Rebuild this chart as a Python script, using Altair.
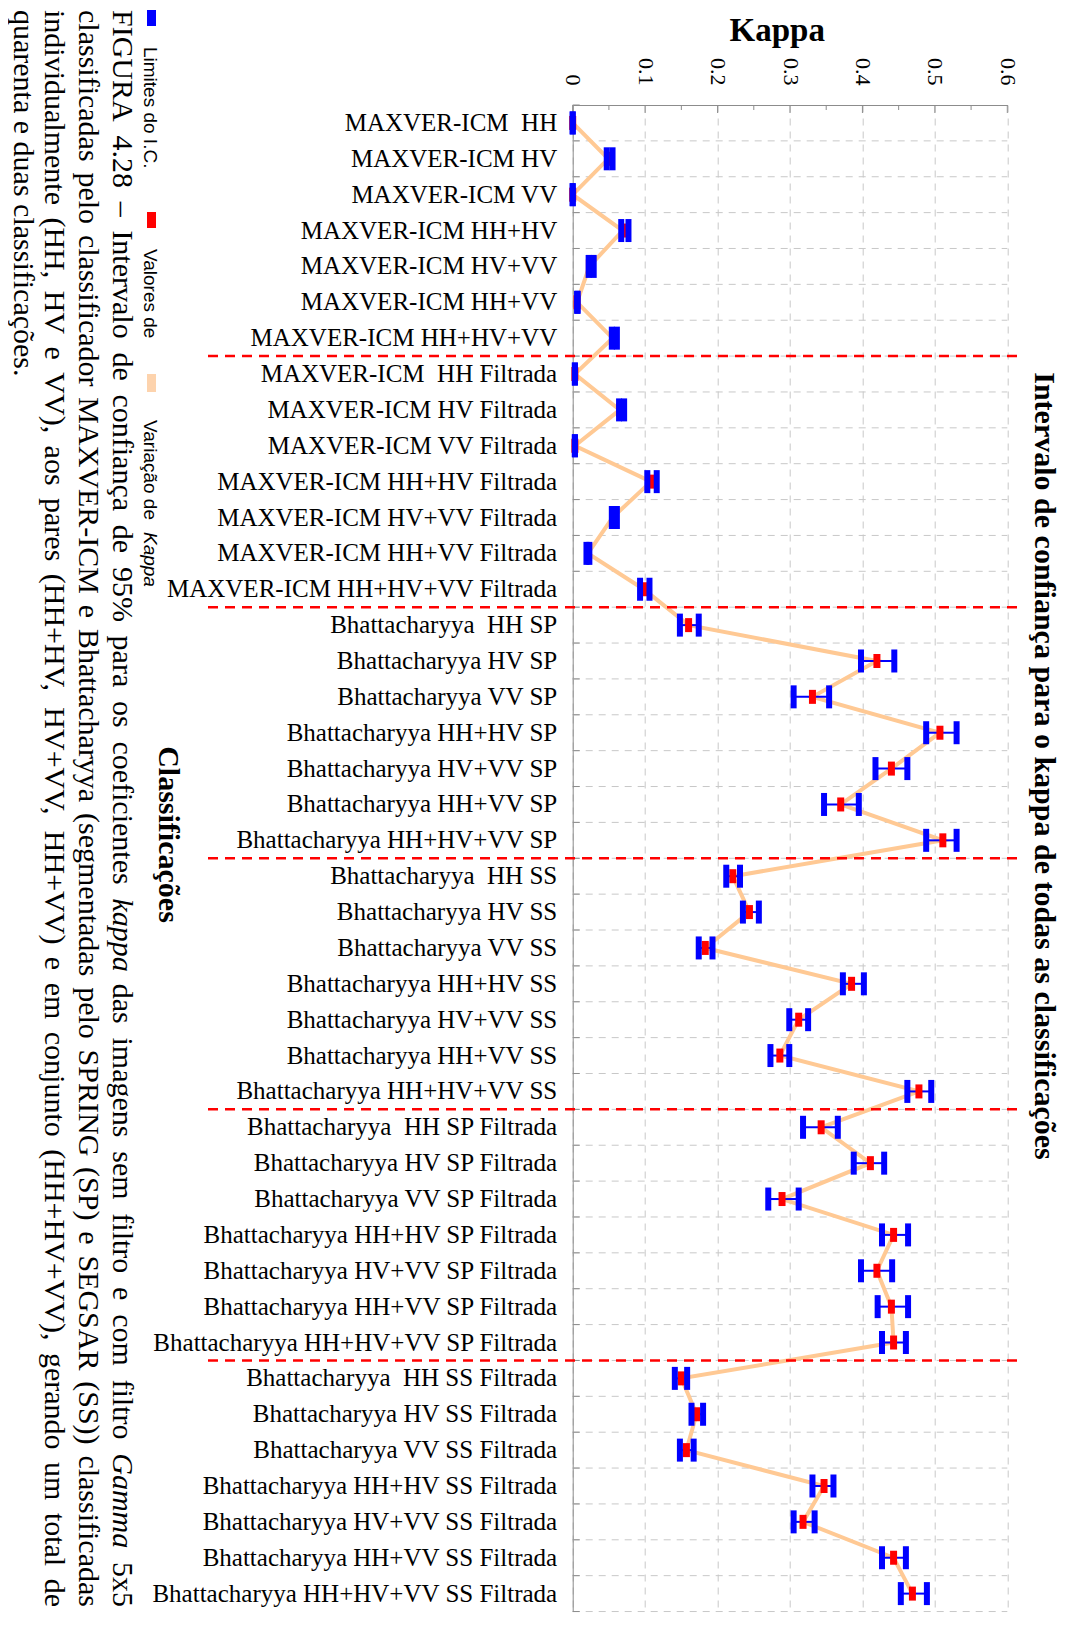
import altair as alt
import pandas as pd

# ---------------- data ----------------
categories = [
    "MAXVER-ICM  HH", "MAXVER-ICM HV", "MAXVER-ICM VV", "MAXVER-ICM HH+HV",
    "MAXVER-ICM HV+VV", "MAXVER-ICM HH+VV", "MAXVER-ICM HH+HV+VV",
    "MAXVER-ICM  HH Filtrada", "MAXVER-ICM HV Filtrada", "MAXVER-ICM VV Filtrada",
    "MAXVER-ICM HH+HV Filtrada", "MAXVER-ICM HV+VV Filtrada", "MAXVER-ICM HH+VV Filtrada",
    "MAXVER-ICM HH+HV+VV Filtrada",
    "Bhattacharyya  HH SP", "Bhattacharyya HV SP", "Bhattacharyya VV SP",
    "Bhattacharyya HH+HV SP", "Bhattacharyya HV+VV SP", "Bhattacharyya HH+VV SP",
    "Bhattacharyya HH+HV+VV SP",
    "Bhattacharyya  HH SS", "Bhattacharyya HV SS", "Bhattacharyya VV SS",
    "Bhattacharyya HH+HV SS", "Bhattacharyya HV+VV SS", "Bhattacharyya HH+VV SS",
    "Bhattacharyya HH+HV+VV SS",
    "Bhattacharyya  HH SP Filtrada", "Bhattacharyya HV SP Filtrada", "Bhattacharyya VV SP Filtrada",
    "Bhattacharyya HH+HV SP Filtrada", "Bhattacharyya HV+VV SP Filtrada",
    "Bhattacharyya HH+VV SP Filtrada", "Bhattacharyya HH+HV+VV SP Filtrada",
    "Bhattacharyya  HH SS Filtrada", "Bhattacharyya HV SS Filtrada", "Bhattacharyya VV SS Filtrada",
    "Bhattacharyya HH+HV SS Filtrada", "Bhattacharyya HV+VV SS Filtrada",
    "Bhattacharyya HH+VV SS Filtrada", "Bhattacharyya HH+HV+VV SS Filtrada",
]

kappa = [
    0.000, 0.049, 0.000, 0.069, 0.023, 0.006, 0.055,
    0.003, 0.065, 0.003, 0.108, 0.055, 0.021, 0.098,
    0.160, 0.420, 0.331, 0.507, 0.440, 0.370, 0.511,
    0.221, 0.244, 0.183, 0.385, 0.312, 0.286, 0.478,
    0.343, 0.411, 0.289, 0.443, 0.420, 0.440, 0.443,
    0.150, 0.171, 0.157, 0.347, 0.318, 0.443, 0.469,
]
ci_low = [
    0.000, 0.047, 0.000, 0.067, 0.022, 0.006, 0.054,
    0.003, 0.064, 0.003, 0.103, 0.054, 0.019, 0.093,
    0.148, 0.398, 0.305, 0.488, 0.418, 0.347, 0.488,
    0.212, 0.235, 0.174, 0.373, 0.299, 0.273, 0.462,
    0.318, 0.388, 0.270, 0.427, 0.398, 0.421, 0.427,
    0.141, 0.164, 0.148, 0.331, 0.305, 0.427, 0.453,
]
ci_high = [
    0.000, 0.055, 0.000, 0.077, 0.029, 0.007, 0.061,
    0.003, 0.071, 0.003, 0.116, 0.061, 0.023, 0.106,
    0.174, 0.444, 0.354, 0.530, 0.462, 0.395, 0.530,
    0.231, 0.257, 0.193, 0.402, 0.325, 0.299, 0.495,
    0.366, 0.430, 0.312, 0.463, 0.441, 0.463, 0.460,
    0.158, 0.180, 0.167, 0.360, 0.334, 0.460, 0.489,
]
group_first = [
    "MAXVER-ICM  HH Filtrada", "Bhattacharyya  HH SP", "Bhattacharyya  HH SS",
    "Bhattacharyya  HH SP Filtrada", "Bhattacharyya  HH SS Filtrada",
]
x_major = [0, 0.1, 0.2, 0.3, 0.4, 0.5, 0.6]
x_minor = [0.05, 0.15, 0.25, 0.35, 0.45, 0.55]

title_text = "Intervalo de confiança para o kappa de todas as classificações"
x_title = "Kappa"
y_title = "Classificações"
legend_items = ["Limites do I.C.", "Valores de", "Variação de "]
legend_italic = "Kappa"
caption_lines = [
    "FIGURA 4.28 – Intervalo de confiança de 95% para os coeficientes kappa das imagens sem filtro e com filtro Gamma 5x5",
    "classificadas pelo classificador MAXVER-ICM e Bhattacharyya (segmentadas pelo SPRING (SP) e SEGSAR (SS)) classificadas",
    "individualmente (HH, HV e VV), aos pares (HH+HV, HV+VV, HH+VV) e em conjunto (HH+HV+VV), gerando um total de",
    "quarenta e duas classificações.",
]
caption_italic = ["kappa", "Gamma"]

# ---------------- layout ----------------
SERIF = "Liberation Serif"
SANS = "Liberation Sans"
X0, Y0 = 572.7, 105.0
W = 434.6
H = 42 * 35.87
BLUE, RED, PEACH, GRID = "#0000ff", "#ff0000", "#ffc994", "#c8c8c8"


def px(v):
    return v - X0


def py(v):
    return v - Y0


# Times/Liberation Serif advance widths (1/1000 em) used to justify the caption
_TW = {" ": 250, "(": 333, ")": 333, "+": 564, ",": 250, "-": 333, ".": 250, "%": 833,
       "–": 500, "x": 500}
_TW.update({d: 500 for d in "0123456789"})
_TW.update(dict(zip("ABCDEFGHIJKLMNOPQRSTUVWXYZ",
                    [722, 667, 667, 722, 611, 556, 722, 722, 333, 389, 722, 611, 889,
                     722, 722, 556, 722, 667, 556, 611, 722, 722, 944, 722, 722, 611])))
_TW.update(dict(zip("abcdefghijklmnopqrstuvwyz",
                    [444, 500, 444, 500, 444, 333, 500, 500, 278, 278, 500, 278, 778,
                     500, 500, 500, 500, 333, 389, 278, 500, 500, 722, 500, 444])))
_ACC = {"ç": "c", "ã": "a", "õ": "o", "á": "a", "é": "e", "í": "i", "ó": "o", "ú": "u"}


def text_width(s, size):
    return sum(_TW.get(_ACC.get(ch, ch), 500) for ch in s) * size / 1000.0


CAP_SIZE = 30
cap_baselines = [113, 79, 45, 14]
cap_start, cap_end = 10, 1607
rows = []
for li, line in enumerate(caption_lines):
    words = line.split(" ")
    widths = [text_width(w, CAP_SIZE) for w in words]
    justify = li < len(caption_lines) - 1
    if justify:
        gap = (cap_end - cap_start - sum(widths)) / (len(words) - 1)
    else:
        gap = text_width(" ", CAP_SIZE)
    pos = cap_start
    for w, wd in zip(words, widths):
        rows.append({"w": w, "x": px(cap_baselines[li]), "y": py(pos),
                     "it": w in caption_italic})
        pos += wd + gap
cap_df = pd.DataFrame(rows)

labels = [c.replace("  ", "\u00a0\u00a0") for c in categories]
df = pd.DataFrame({
    "cat": labels,
    "kappa": kappa,
    "lo": ci_low,
    "hi": ci_high,
    "idx": list(range(len(labels))),
})
sep_df = pd.DataFrame({"cat": [c.replace("  ", "\u00a0\u00a0") for c in group_first]})
bottom_df = pd.DataFrame({"cat": [labels[-1]]})
major_df = pd.DataFrame({"t": x_major})
minor_df = pd.DataFrame({"t": x_minor})

xscale = alt.Scale(domain=[0, 0.6], nice=False, zero=False)
yscale = alt.Scale(domain=labels, paddingInner=0, paddingOuter=0)

xaxis = alt.Axis(
    orient="top", values=x_major, format=".1~f",
    labelAngle=90, labelAlign="right", labelBaseline="middle",
    labelFont=SERIF, labelFontSize=22, labelColor="black", labelPadding=20,
    labelFlush=False, labelOverlap=False,
    ticks=False, tickSize=0, domainColor="#8c8c8c", domainWidth=1,
    grid=True, gridColor=GRID, gridDash=[7, 6], gridWidth=1,
    title=x_title, titleFont=SERIF, titleFontSize=33, titleFontWeight="bold",
    titleColor="black", titleX=204, titleY=-65, titleAlign="center",
    titleBaseline="alphabetic", titleAngle=0,
)
yaxis = alt.Axis(
    orient="left", labelFont=SERIF, labelFontSize=25, labelColor="black",
    labelAlign="right", labelBaseline="middle", labelPadding=16, labelLimit=700,
    labelOverlap=False, ticks=False, tickSize=0,
    domainColor="#8c8c8c", domainWidth=1, grid=False,
    title=y_title, titleFont=SERIF, titleFontSize=30, titleFontWeight="bold",
    titleColor="black", titleAngle=90, titleX=px(158), titleY=py(834),
    titleAlign="center", titleBaseline="alphabetic",
)


def X(field):
    return alt.X(f"{field}:Q", scale=xscale, axis=xaxis)


def Y(band=None):
    if band is None:
        return alt.Y("cat:N", scale=yscale, axis=yaxis, sort=None)
    return alt.Y("cat:N", scale=yscale, axis=yaxis, sort=None, bandPosition=band)


base = alt.Chart(df)

hgrid = base.transform_filter("datum.idx > 0").mark_rule(
    color=GRID, strokeDash=[7, 6], strokeWidth=1
).encode(y=Y(0), x=alt.value(0), x2=alt.value(W))
hgrid_bottom = alt.Chart(bottom_df).mark_rule(
    color=GRID, strokeDash=[7, 6], strokeWidth=1
).encode(y=Y(1), x=alt.value(0), x2=alt.value(W))

left_ticks = base.mark_rule(color="#8c8c8c", strokeWidth=1).encode(
    y=Y(0), x=alt.value(0), x2=alt.value(7))
left_tick_bottom = alt.Chart(bottom_df).mark_rule(color="#8c8c8c", strokeWidth=1).encode(
    y=Y(1), x=alt.value(0), x2=alt.value(7))

top_major = alt.Chart(major_df).mark_rule(color="#8c8c8c", strokeWidth=1).encode(
    x=X("t"), y=alt.value(0), y2=alt.value(8))
top_minor = alt.Chart(minor_df).mark_rule(color="#8c8c8c", strokeWidth=1).encode(
    x=X("t"), y=alt.value(0), y2=alt.value(5))

seps = alt.Chart(sep_df).mark_rule(color=RED, strokeDash=[10, 7], strokeWidth=2.5).encode(
    y=Y(0), x=alt.value(px(208)), x2=alt.value(px(1021)))

line = base.mark_line(color=PEACH, strokeWidth=4).encode(
    x=X("kappa"), y=Y(), order="idx:Q")
ci_rule = base.mark_rule(color=BLUE, strokeWidth=2).encode(
    x=X("lo"), x2="hi:Q", y=Y())
val = base.mark_tick(color=RED, thickness=7, size=14, opacity=1).encode(x=X("kappa"), y=Y())
cap_lo = base.mark_tick(color=BLUE, thickness=6, size=23, opacity=1).encode(x=X("lo"), y=Y())
cap_hi = base.mark_tick(color=BLUE, thickness=6, size=23, opacity=1).encode(x=X("hi"), y=Y())


def txt(s, x, y, size, font=SERIF, weight="normal", style="normal",
        angle=90, align="left", baseline="alphabetic"):
    return alt.Chart(pd.DataFrame({"t": [s]})).mark_text(
        angle=angle, align=align, baseline=baseline, font=font, fontSize=size,
        fontWeight=weight, fontStyle=style, color="black",
    ).encode(x=alt.value(px(x)), y=alt.value(py(y)), text="t:N")


def swatch(color, x1, x2, y1, y2):
    return alt.Chart(pd.DataFrame({"t": [0]})).mark_rect(color=color).encode(
        x=alt.value(px(x1)), x2=alt.value(px(x2)), y=alt.value(py(y1)), y2=alt.value(py(y2)))


def caption_layer(italic):
    return alt.Chart(cap_df).transform_filter(
        "datum.it" if italic else "!datum.it"
    ).mark_text(
        angle=90, align="left", baseline="alphabetic", font=SERIF, fontSize=CAP_SIZE,
        fontStyle="italic" if italic else "normal", color="black",
    ).encode(x=alt.X("x:Q", scale=None), y=alt.Y("y:Q", scale=None), text="w:N")


LEG_SIZE = 19
LEG_X = 144
texts = [
    txt(title_text, 1035, 766, 30, weight="bold", align="center"),
    swatch(BLUE, 147, 156, 10, 26),
    txt(legend_items[0], LEG_X, 47, LEG_SIZE, font=SANS),
    swatch(RED, 147, 156, 212, 228),
    txt(legend_items[1], LEG_X, 249, LEG_SIZE, font=SANS),
    swatch("#fdd3ad", 147, 156, 374, 392),
    txt(legend_items[2], LEG_X, 420, LEG_SIZE, font=SANS),
    txt(legend_italic, LEG_X, 420 + 112, LEG_SIZE, font=SANS, style="italic"),
    caption_layer(False),
    caption_layer(True),
]

chart = alt.layer(
    hgrid, hgrid_bottom, left_ticks, left_tick_bottom, top_major, top_minor,
    line, seps, ci_rule, val, cap_lo, cap_hi, *texts,
).properties(
    width=W, height=H,
    autosize=alt.AutoSizeParams(type="none"),
    padding={"left": X0 - 8, "top": Y0 - 8, "right": 1065 - (X0 + W), "bottom": 1609 - (Y0 - 8) - H},
).configure_view(stroke=None)

chart.save("out.html", embed_options={"renderer": "svg", "actions": False})
